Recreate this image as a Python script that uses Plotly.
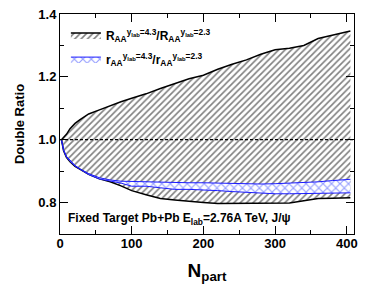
import plotly.graph_objects as go

# ---- data ----
n_part = [2, 5, 9, 14, 21, 28, 40, 55, 70, 85, 100, 120, 140, 160, 180, 200, 220, 240, 260, 280, 300, 320, 340, 360, 380, 405]

R_upper = [1.000, 1.008, 1.017, 1.035, 1.052, 1.064, 1.082, 1.095, 1.109, 1.121, 1.132, 1.146, 1.163, 1.178, 1.194, 1.205, 1.224, 1.240, 1.254, 1.272, 1.286, 1.291, 1.300, 1.322, 1.333, 1.346]
R_lower = [1.000, 0.965, 0.944, 0.930, 0.915, 0.905, 0.890, 0.876, 0.866, 0.853, 0.838, 0.825, 0.813, 0.808, 0.803, 0.800, 0.797, 0.797, 0.797, 0.797, 0.797, 0.799, 0.806, 0.813, 0.814, 0.815]

r_upper = [1.000, 0.968, 0.947, 0.934, 0.918, 0.907, 0.892, 0.879, 0.872, 0.868, 0.867, 0.867, 0.864, 0.863, 0.863, 0.863, 0.862, 0.861, 0.859, 0.859, 0.860, 0.862, 0.863, 0.866, 0.870, 0.874]
r_lower = [1.000, 0.966, 0.945, 0.931, 0.916, 0.905, 0.889, 0.875, 0.868, 0.862, 0.852, 0.852, 0.847, 0.842, 0.842, 0.841, 0.838, 0.835, 0.832, 0.830, 0.828, 0.828, 0.829, 0.830, 0.831, 0.831]

ref_line = [1.0, 1.0]
ref_x = [0, 410]

x_ticks = [0, 100, 200, 300, 400]
y_ticks = [0.8, 1.0, 1.2, 1.4]

FONT = "Liberation Sans, Arial, sans-serif"
BLUE = "#1a1aff"

black_pattern = dict(shape="/", fgcolor="black", bgcolor="white", size=4.5, solidity=0.35)
blue_pattern = dict(shape="x", fgcolor="#2b3dff", bgcolor="white", size=6, solidity=0.35)

fig = go.Figure()

# black hatched band
fig.add_trace(go.Scatter(x=n_part, y=R_lower, mode="lines",
                         line=dict(color="black", width=1.5),
                         showlegend=False, hoverinfo="skip"))
fig.add_trace(go.Scatter(x=n_part, y=R_upper, mode="lines",
                         line=dict(color="black", width=1.5),
                         fill="tonexty", fillcolor="white", fillpattern=black_pattern,
                         legendgroup="R", legendrank=1,
                         name="R<sub>AA</sub><sup>y<sub>lab</sub>=4.3</sup>/R<sub>AA</sub><sup>y<sub>lab</sub>=2.3</sup>",
                         hoverinfo="skip"))

# blue cross-hatched band
fig.add_trace(go.Scatter(x=n_part, y=r_lower, mode="lines",
                         line=dict(color=BLUE, width=1),
                         showlegend=False, hoverinfo="skip"))
fig.add_trace(go.Scatter(x=n_part, y=r_upper, mode="lines",
                         line=dict(color=BLUE, width=1),
                         fill="tonexty", fillcolor="white", fillpattern=blue_pattern,
                         legendgroup="r", legendrank=2,
                         name="r<sub>AA</sub><sup>y<sub>lab</sub>=4.3</sup>/r<sub>AA</sub><sup>y<sub>lab</sub>=2.3</sup>",
                         hoverinfo="skip"))

# dashed reference line at 1
fig.add_trace(go.Scatter(x=ref_x, y=ref_line, mode="lines",
                         line=dict(color="black", width=1.2, dash="3px,2px"),
                         showlegend=False, hoverinfo="skip"))

fig.add_annotation(text="Fixed Target Pb+Pb E<sub>lab</sub>=2.76A TeV, J/ψ",
                   xref="paper", yref="paper", x=0.022, y=0.07,
                   xanchor="left", yanchor="middle", showarrow=False,
                   font=dict(family=FONT, size=12, color="black", weight="bold"))

axis_common = dict(showline=True, linecolor="black", linewidth=1, mirror="ticks",
                   ticks="inside", ticklen=8, tickcolor="black", showgrid=False,
                   zeroline=False, automargin=False, type="linear",
                   tickfont=dict(family=FONT, size=13, color="black", weight="bold"))

fig.update_xaxes(range=[0, 410], tickvals=x_ticks, ticklabelstandoff=-3,
                 minor=dict(dtick=50, tick0=0, ticks="inside", ticklen=4, tickcolor="black"),
                 title=dict(text="N<sub>part</sub>", standoff=14,
                            font=dict(family=FONT, size=19, color="black", weight="bold")),
                 **axis_common)
fig.update_yaxes(range=[0.7, 1.4], tickvals=y_ticks, tickformat=".1f",
                 minor=dict(dtick=0.1, tick0=0, ticks="inside", ticklen=4, tickcolor="black"),
                 title=dict(text="Double Ratio", standoff=10,
                            font=dict(family=FONT, size=13, color="black", weight="bold")),
                 **axis_common)

fig.update_layout(width=374, height=294,
                  margin=dict(l=60, r=20, t=14, b=60),
                  paper_bgcolor="white", plot_bgcolor="white",
                  legend=dict(x=0.02, y=0.97, xanchor="left", yanchor="top",
                              bgcolor="rgba(0,0,0,0)", itemwidth=30,
                              traceorder="grouped",
                              font=dict(family=FONT, size=12, color="black", weight="bold"),
                              tracegroupgap=5),
                  showlegend=True)

fig.write_html("out.html", config={"displayModeBar": False},
               post_script="document.body.style.margin='0';")
